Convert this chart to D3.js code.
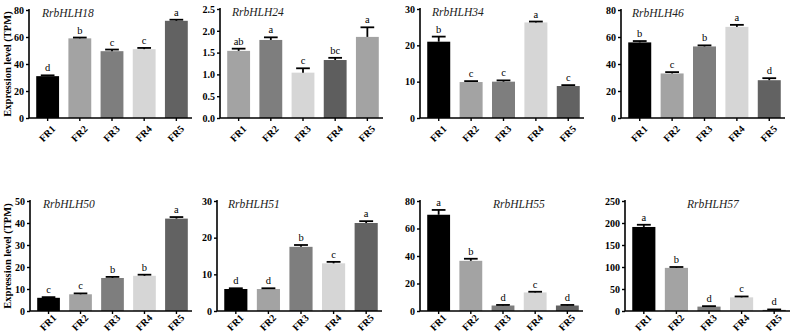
<!DOCTYPE html>
<html>
<head>
<meta charset="utf-8">
<script src="https://cdn.jsdelivr.net/npm/d3@7"></script>
<style>
  body { margin: 0; background: #fff; }
</style>
</head>
<body>
<svg id="chart" width="795" height="336"></svg>
<script>
// data
var categories = ['FR1', 'FR2', 'FR3', 'FR4', 'FR5'];
var genes = ['RrbHLH18', 'RrbHLH24', 'RrbHLH34', 'RrbHLH46', 'RrbHLH50', 'RrbHLH51', 'RrbHLH55', 'RrbHLH57'];

var values = [
  [31, 59, 49.5, 51, 72],
  [1.54, 1.79, 1.04, 1.33, 1.86],
  [21, 9.9, 10, 26.3, 8.8],
  [56, 33, 53, 67.5, 28],
  [6, 7.6, 15, 16, 42],
  [6, 6, 17.5, 13, 24],
  [70, 36.5, 4, 13.5, 4],
  [191, 98, 10, 31, 2.5]
];
var errors = [
  [0.6, 0.6, 1.2, 0.9, 0.8],
  [0.05, 0.06, 0.1, 0.05, 0.22],
  [1.4, 0.25, 0.35, 0.25, 0.25],
  [1, 1, 0.8, 1.5, 1.5],
  [0.3, 0.4, 0.5, 0.5, 0.7],
  [0.2, 0.2, 0.5, 0.4, 0.5],
  [3.5, 1.5, 0.4, 0.5, 0.4],
  [5, 2, 1, 2, 1]
];
var letters = [
  ['d', 'b', 'c', 'c', 'a'],
  ['ab', 'a', 'c', 'bc', 'a'],
  ['b', 'c', 'c', 'a', 'c'],
  ['b', 'c', 'b', 'a', 'd'],
  ['c', 'c', 'b', 'b', 'a'],
  ['d', 'd', 'b', 'c', 'a'],
  ['a', 'b', 'd', 'c', 'd'],
  ['a', 'b', 'd', 'c', 'd']
];
var yMax = [80, 2.5, 30, 80, 50, 30, 80, 250];
var yStep = [20, 0.5, 10, 20, 10, 10, 20, 50];

// layout of each panel: axis left, axis right, top, bottom, title x, label shift
var panels = [
  { x0: 29, x1: 192, top: 10, bottom: 118, tx: 42, ly: 9, yLabel: true },
  { x0: 220, x1: 383, top: 9, bottom: 118, tx: 232, ly: 9 },
  { x0: 420, x1: 584, top: 9, bottom: 118, tx: 432, ly: 9 },
  { x0: 621, x1: 785, top: 10, bottom: 118, tx: 632, ly: 9 },
  { x0: 30, x1: 192, top: 201, bottom: 311, tx: 43, ly: 5, yLabel: true },
  { x0: 217, x1: 382, top: 201, bottom: 311, tx: 228, ly: 5 },
  { x0: 420, x1: 583, top: 201, bottom: 311, tx: 493, ly: 5 },
  { x0: 625, x1: 790, top: 201, bottom: 311, tx: 687, ly: 5 }
];

var SERIF = '"Liberation Serif", "DejaVu Serif", serif';
var palette = ['#000000', '#a3a3a3', '#7e7e7e', '#d6d6d6', '#626262'];
var palette24 = ['#a3a3a3', '#7e7e7e', '#d6d6d6', '#5e5e5e', '#a3a3a3'];

var svg = d3.select('#chart');

genes.forEach(function(gene, gi) {
  var p = panels[gi];
  var g = svg.append('g');
  var colors = gi === 1 ? palette24 : palette;

  var x = d3.scaleBand()
    .domain(categories)
    .range([p.x0 + 4, p.x1 - 1])
    .paddingInner(0.29)
    .paddingOuter(0.1);

  var y = d3.scaleLinear()
    .domain([0, yMax[gi]])
    .range([p.bottom, p.top]);

  var ticks = d3.range(0, yMax[gi] + yStep[gi] / 2, yStep[gi]);
  var fmt = yStep[gi] < 1 ? d3.format('.1f') : d3.format('d');

  var rows = categories.map(function(c, i) {
    return { cat: c, v: values[gi][i], e: errors[gi][i], l: letters[gi][i], color: colors[i] };
  });

  g.selectAll('rect.bar')
    .data(rows)
    .enter().append('rect')
    .attr('class', 'bar')
    .attr('x', d => x(d.cat))
    .attr('width', x.bandwidth())
    .attr('y', d => y(d.v))
    .attr('height', d => p.bottom - y(d.v))
    .attr('fill', d => d.color);

  // error bars (upper only)
  var capW = x.bandwidth() * 0.6;
  var eb = g.selectAll('g.err')
    .data(rows)
    .enter().append('g')
    .attr('class', 'err')
    .attr('stroke', '#000')
    .attr('stroke-width', 1.8);
  eb.append('line')
    .attr('x1', d => x(d.cat) + x.bandwidth() / 2)
    .attr('x2', d => x(d.cat) + x.bandwidth() / 2)
    .attr('y1', d => y(d.v))
    .attr('y2', d => y(d.v + d.e));
  eb.append('line')
    .attr('x1', d => x(d.cat) + x.bandwidth() / 2 - capW / 2)
    .attr('x2', d => x(d.cat) + x.bandwidth() / 2 + capW / 2)
    .attr('y1', d => y(d.v + d.e))
    .attr('y2', d => y(d.v + d.e));

  g.selectAll('text.letter')
    .data(rows)
    .enter().append('text')
    .attr('class', 'letter')
    .attr('x', d => x(d.cat) + x.bandwidth() / 2)
    .attr('y', d => y(d.v + d.e) - 4)
    .attr('text-anchor', 'middle')
    .style('font-family', SERIF)
    .style('font-size', '10.5px')
    .text(d => d.l);

  // y axis
  var yAxis = d3.axisLeft(y).tickValues(ticks).tickFormat(fmt).tickSize(3).tickPadding(2);
  var ya = g.append('g')
    .attr('transform', 'translate(' + p.x0 + ',0)')
    .call(yAxis);
  ya.select('.domain').attr('stroke-width', 1.6).attr('d', 'M0,' + (p.top - 1) + 'V' + p.bottom);
  ya.selectAll('.tick line').attr('stroke-width', 1.4);
  ya.selectAll('.tick text')
    .style('font-family', SERIF)
    .style('font-size', '10px')
    .style('font-weight', 'bold')
    .attr('fill', '#000');

  // x axis
  var xAxis = d3.axisBottom(x).tickSize(3).tickSizeOuter(0);
  var xa = g.append('g')
    .attr('transform', 'translate(0,' + p.bottom + ')')
    .call(xAxis);
  xa.select('.domain').attr('stroke-width', 1.6).attr('d', 'M' + p.x0 + ',0H' + p.x1);
  xa.selectAll('.tick line').attr('stroke-width', 1.4);
  xa.selectAll('.tick text')
    .style('font-family', SERIF)
    .style('font-size', '10px')
    .style('font-weight', 'bold')
    .attr('fill', '#000')
    .attr('text-anchor', 'end')
    .attr('dy', '0.35em')
    .attr('transform', 'translate(6,' + p.ly + ') rotate(-45)')
    .attr('y', 0)
    .attr('x', 0);

  g.append('text')
    .attr('x', p.tx)
    .attr('y', p.top + 7)
    .style('font-family', SERIF)
    .style('font-style', 'italic')
    .style('font-size', '11.5px')
    .attr('fill', '#222')
    .text(gene);

  if (p.yLabel) {
    g.append('text')
      .attr('transform', 'translate(' + 11 + ',' + ((p.top + p.bottom) / 2) + ') rotate(-90)')
      .attr('text-anchor', 'middle')
      .style('font-family', SERIF)
      .style('font-size', '10.5px')
      .style('font-weight', 'bold')
      .text('Expression level (TPM)');
  }
});
</script>
</body>
</html>
